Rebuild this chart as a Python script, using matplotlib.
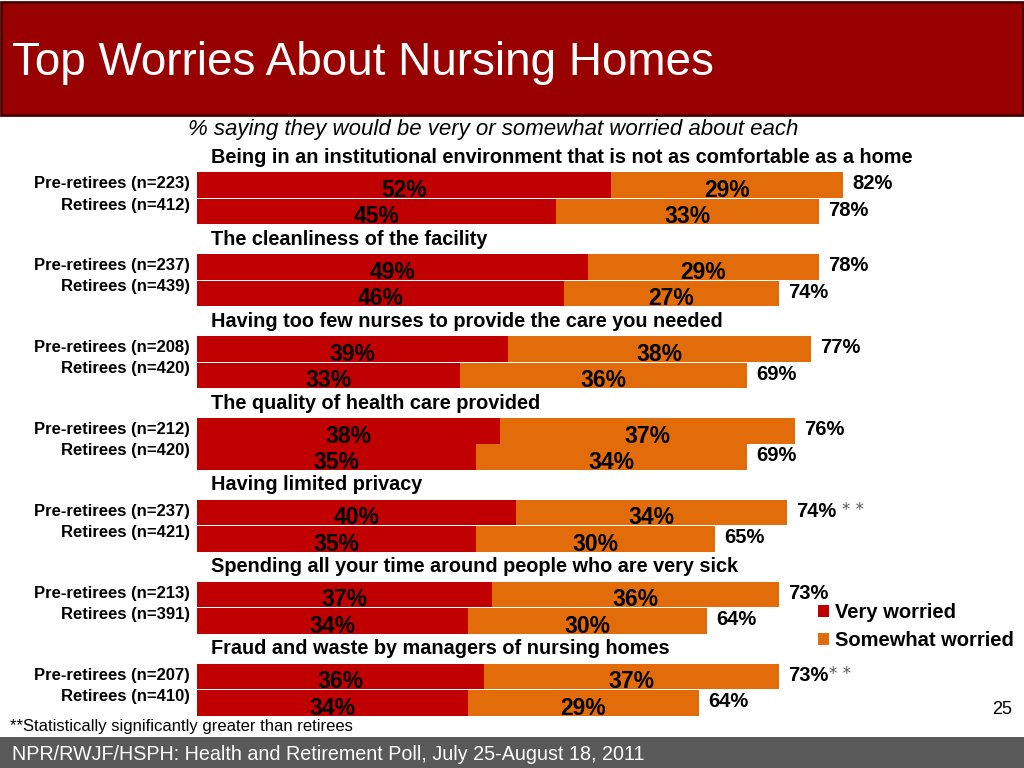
import matplotlib
matplotlib.use('Agg')
import matplotlib.pyplot as plt
from matplotlib.patches import Rectangle, Patch

# --- Dados ---
temas = [
    'Being in an institutional environment that is not as comfortable as a home',
    'The cleanliness of the facility',
    'Having too few nurses to provide the care you needed',
    'The quality of health care provided',
    'Having limited privacy',
    'Spending all your time around people who are very sick',
    'Fraud and waste by managers of nursing homes',
]
n_pre = [223, 237, 208, 212, 237, 213, 207]
n_ret = [412, 439, 420, 420, 421, 391, 410]
pre_muito = [52, 49, 39, 38, 40, 37, 36]
pre_algo = [29, 29, 38, 37, 34, 36, 37]
ret_muito = [45, 46, 33, 35, 35, 34, 34]
ret_algo = [33, 27, 36, 34, 30, 30, 29]
pre_total = [82, 78, 77, 76, 74, 73, 73]
ret_total = [78, 74, 69, 69, 65, 64, 64]
signif = [False, False, False, False, True, False, True]

COR_MUITO = '#C00000'
COR_ALGO = '#E36C0A'
plt.rcParams['font.family'] = ['Liberation Sans', 'DejaVu Sans']

fig = plt.figure(figsize=(10.24, 7.68), dpi=100)

# faixa do título e rodapé
fig.patches.append(Rectangle((0.001, 1 - 115 / 768), 0.998, 115 / 768 - 0.002, transform=fig.transFigure,
                             facecolor='#990000', edgecolor='#4a0000', lw=2))
fig.patches.append(Rectangle((0, 0), 1, 31 / 768, transform=fig.transFigure,
                             facecolor='#595959', edgecolor='none'))
fig.text(12 / 1024, 1 - 63 / 768, 'Top Worries About Nursing Homes', color='white',
         fontsize=33, va='center', ha='left')
fig.text(493 / 1024, 1 - 130 / 768, '% saying they would be very or somewhat worried about each',
         fontsize=16, style='italic', ha='center', va='center')
fig.text(10 / 1024, 1 - 727 / 768, '**Statistically significantly greater than retirees',
         fontsize=12, ha='left', va='center')
fig.text(12 / 1024, 1 - 754 / 768, 'NPR/RWJF/HSPH: Health and Retirement Poll, July 25-August 18, 2011',
         fontsize=14.2, color='white', ha='left', va='center')
fig.text(1012 / 1024, 1 - 709 / 768, '25', fontsize=13, ha='right', va='center')

# área das barras
ESP = 3.1
y_max = 6 * ESP + 1.5
ax = fig.add_axes([197 / 1024, 1 - 716 / 768, 797 / 1024, 544 / 768])
ax.set_xlim(0, 100)
ax.set_ylim(y_max, -0.5)
ax.axis('off')

for i in range(len(temas)):
    y_pre = i * ESP
    y_ret = i * ESP + 1
    ax.barh(y_pre, pre_muito[i], height=0.97, color=COR_MUITO)
    ax.barh(y_pre, pre_algo[i], left=pre_muito[i], height=0.97, color=COR_ALGO)
    ax.barh(y_ret, ret_muito[i], height=0.97, color=COR_MUITO)
    ax.barh(y_ret, ret_algo[i], left=ret_muito[i], height=0.97, color=COR_ALGO)

    ax.text(1.8, y_pre - 1.05, temas[i], fontsize=14.3, fontweight='bold', va='center', ha='left')

    for y, v1, v2 in [(y_pre, pre_muito[i], pre_algo[i]), (y_ret, ret_muito[i], ret_algo[i])]:
        ax.text(v1 / 2, y + 0.2, f'{v1}%', fontsize=16.5, fontweight='bold', ha='center', va='center')
        ax.text(v1 + v2 / 2, y + 0.2, f'{v2}%', fontsize=16.5, fontweight='bold', ha='center', va='center')

    t = ax.text(pre_muito[i] + pre_algo[i] + 1.2, y_pre - 0.05, f'{pre_total[i]}%',
                fontsize=14.5, fontweight='bold', ha='left', va='center', clip_on=False)
    ax.text(ret_muito[i] + ret_algo[i] + 1.2, y_ret - 0.05, f'{ret_total[i]}%',
            fontsize=14.5, fontweight='bold', ha='left', va='center', clip_on=False)
    if signif[i]:
        gap = 4 if i == 4 else 0
        ax.annotate('* *', xy=(1, 0.55), xycoords=t, xytext=(gap, 0), textcoords='offset points',
                    fontsize=12, color='#555555', family='DejaVu Sans', va='center', ha='left')

    ax.text(-0.9, y_pre - 0.05, f'Pre-retirees (n={n_pre[i]})', fontsize=12, fontweight='bold',
            ha='right', va='center', clip_on=False)
    ax.text(-0.9, y_ret - 0.25, f'Retirees (n={n_ret[i]})', fontsize=12, fontweight='bold',
            ha='right', va='center', clip_on=False)

handles = [Patch(facecolor=COR_MUITO, label='Very worried'),
           Patch(facecolor=COR_ALGO, label='Somewhat worried')]
fig.legend(handles=handles, loc='upper left', bbox_to_anchor=(818 / 1024, 1 - 603 / 768),
           frameon=False, handlelength=0.55, handleheight=0.55, handletextpad=0.3,
           labelspacing=0.45, prop={'weight': 'bold', 'size': 14.5}, borderaxespad=0, borderpad=0)

plt.savefig('out.png', dpi=100)
